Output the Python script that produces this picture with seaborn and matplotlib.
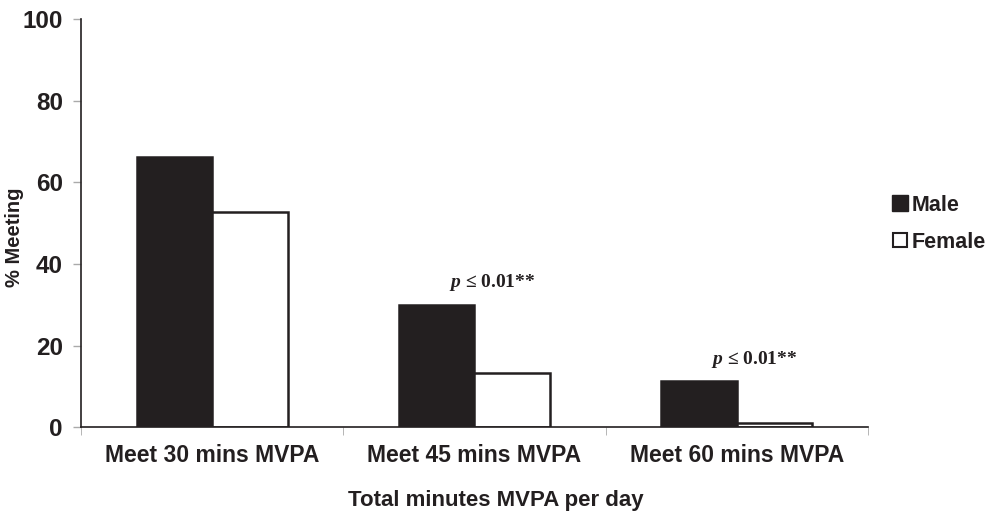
import matplotlib
matplotlib.use("Agg")
import matplotlib.pyplot as plt
import seaborn as sns
import pandas as pd
from matplotlib.lines import Line2D

categories = ["Meet 30 mins MVPA", "Meet 45 mins MVPA", "Meet 60 mins MVPA"]
male = [66.2, 29.9, 11.2]
female = [52.8, 13.2, 1.0]
annotations = ["", "p ≤ 0.01**", "p ≤ 0.01**"]

df = pd.DataFrame({
    "cat": categories * 2,
    "sex": ["Male"] * 3 + ["Female"] * 3,
    "val": male + female,
})

sns.set_style("white")
plt.rcParams['font.family'] = ['Liberation Sans', 'DejaVu Sans']
plt.rcParams['mathtext.fontset'] = 'custom'
plt.rcParams['mathtext.it'] = 'Liberation Serif:italic:bold'
plt.rcParams['mathtext.rm'] = 'Liberation Serif:bold'
plt.rcParams['mathtext.bf'] = 'Liberation Serif:bold'

fig = plt.figure(figsize=(9.88, 5.14), dpi=100)
ax = fig.add_axes([0.082, 0.169, 0.7965, 0.794])

sns.barplot(data=df, x="cat", y="val", hue="sex", order=categories,
            hue_order=["Male", "Female"],
            palette={"Male": "#231f20", "Female": "white"},
            width=0.576, edgecolor="#231f20", linewidth=1.8,
            saturation=1, legend=False, ax=ax)

ax.set_xlim(-0.5, 2.5)
ax.set_ylim(0, 100)
ax.set_yticks([0, 20, 40, 60, 80, 100])
ax.set_xticks([0, 1, 2])
ax.set_xticklabels(categories, fontsize=16.5, fontweight="bold", color="#231f20")
ax.tick_params(axis="x", length=0, pad=12)
ax.tick_params(axis="y", length=6, width=1, color="#aaaaaa", left=True,
               labelsize=17.5, pad=7)
for lab in ax.get_yticklabels():
    lab.set_fontweight("bold")
    lab.set_color("#231f20")

# group boundary ticks on x axis
ax.set_xticks([-0.5, 0.5, 1.5, 2.5], minor=True)
ax.tick_params(axis="x", which="minor", length=6, color="#aaaaaa", bottom=True, direction="out")

for s in ["top", "right"]:
    ax.spines[s].set_visible(False)
for s in ["left", "bottom"]:
    ax.spines[s].set_color("#231f20")
    ax.spines[s].set_linewidth(1.2)

ax.set_xlabel("Total minutes MVPA per day", fontsize=16, fontweight="bold",
              color="#231f20", labelpad=14)
ax.xaxis.set_label_coords(0.527, -0.155)
ax.set_ylabel("% Meeting", fontsize=14.5, fontweight="bold", color="#231f20")
ax.yaxis.set_label_coords(-0.072, 0.466)

for i, (txt, m) in enumerate(zip(annotations, male)):
    if txt:
        ax.text(i + 0.068, m + 2.9, r"$p$" + " ≤ 0.01**", ha="center", va="bottom",
                fontsize=14, fontweight="bold", family=["Liberation Serif", "DejaVu Serif"],
                color="#231f20")

handles = [
    Line2D([], [], marker="s", linestyle="none", markersize=11,
           markerfacecolor="#231f20", markeredgecolor="#231f20", label="Male"),
    Line2D([], [], marker="s", linestyle="none", markersize=10,
           markerfacecolor="white", markeredgecolor="#231f20", markeredgewidth=1.5,
           label="Female"),
]
leg = fig.legend(handles=handles, loc="center left", bbox_to_anchor=(0.88, 0.565),
                 frameon=False, handletextpad=0.05, handlelength=1.0,
                 labelspacing=0.75, prop={"size": 15.5, "weight": "bold"})
for t in leg.get_texts():
    t.set_color("#231f20")

fig.savefig("out.png", dpi=100)
